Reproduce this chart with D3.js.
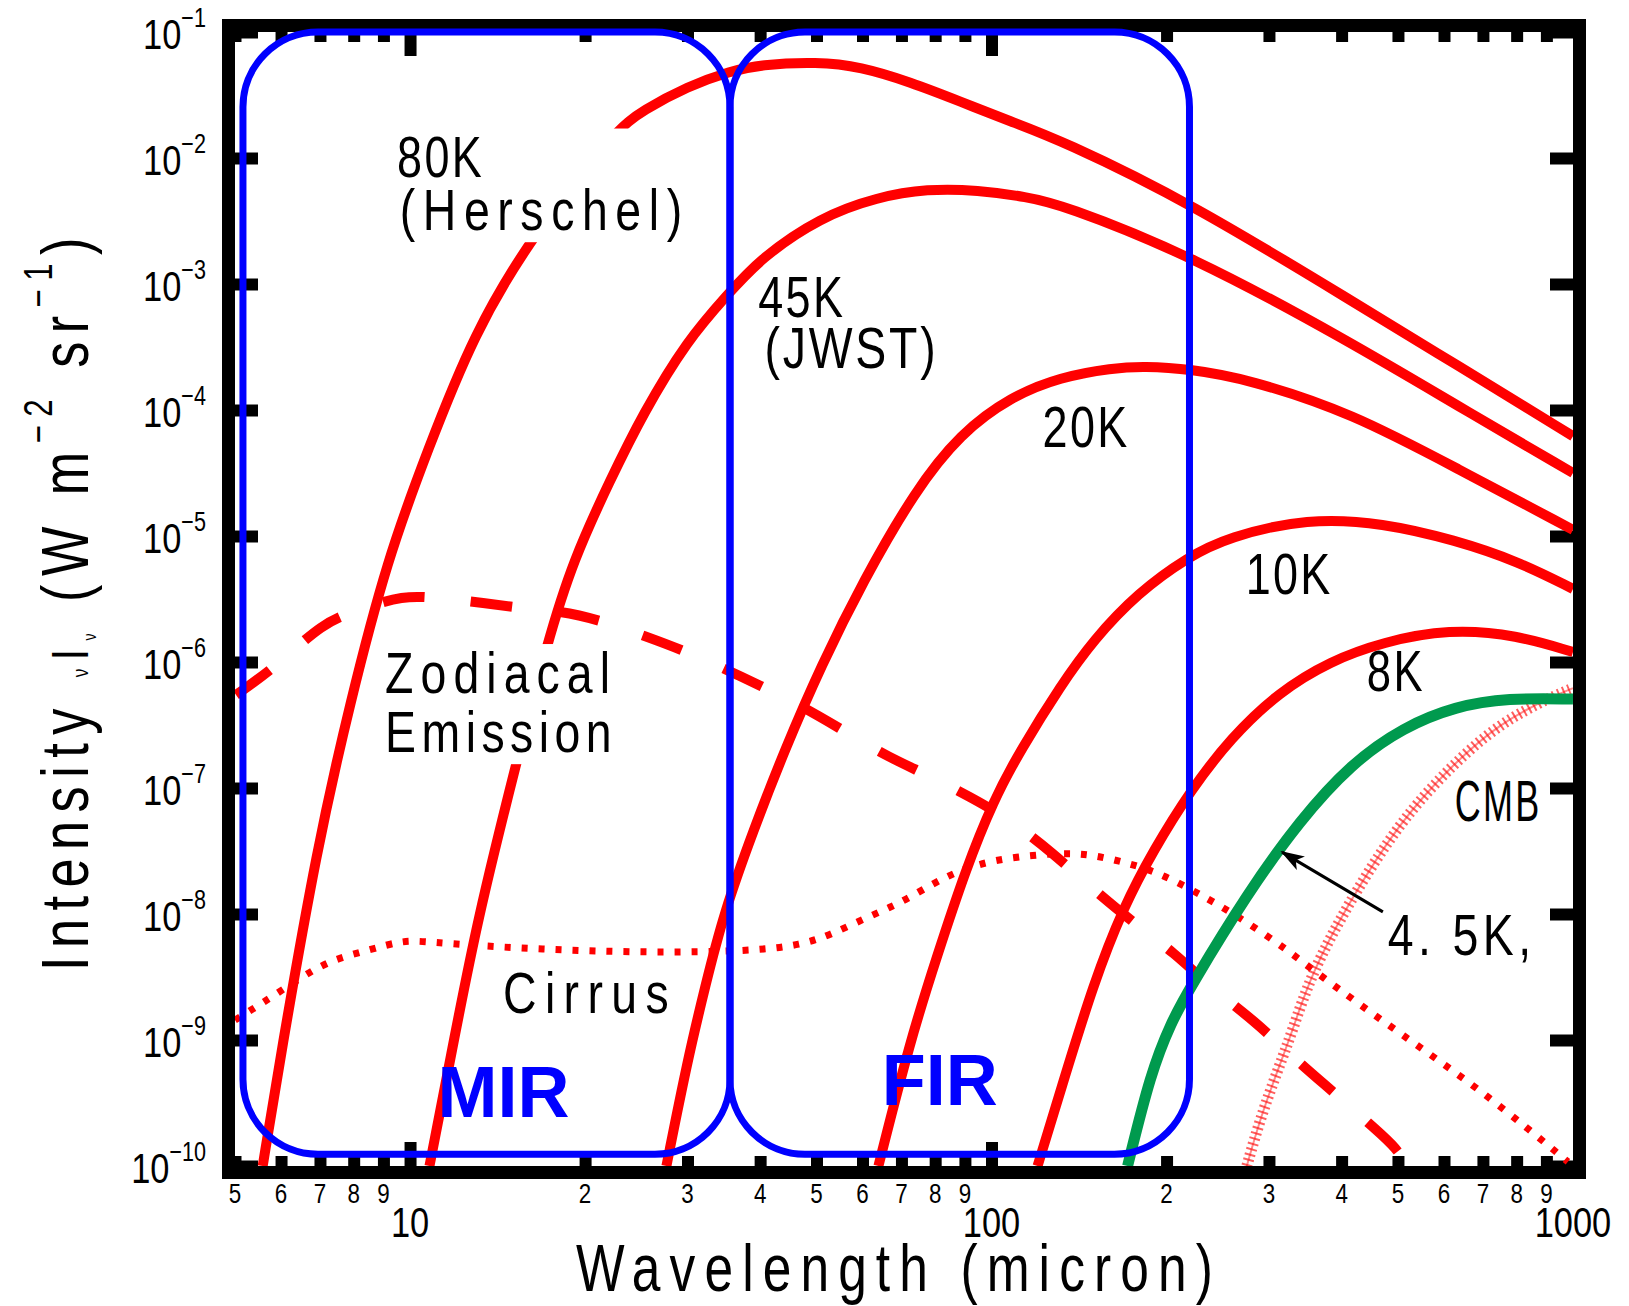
<!DOCTYPE html>
<html>
<head>
<meta charset="utf-8">
<script src="https://cdn.jsdelivr.net/npm/d3@7"></script>
<style>
html, body { margin: 0; padding: 0; background: #fff; }
svg { display: block; }
text { font-family: "Liberation Sans", Arial, sans-serif; fill: #000; }
</style>
</head>
<body>
<svg id="chart" width="1629" height="1306"></svg>
<script>
// axis ticks
var xMinorTicks = [5, 6, 7, 8, 9, 20, 30, 40, 50, 60, 70, 80, 90, 200, 300, 400, 500, 600, 700, 800, 900];
var xMajorTicks = [10, 100, 1000];
var yTicks = [1e-1, 1e-2, 1e-3, 1e-4, 1e-5, 1e-6, 1e-7, 1e-8, 1e-9, 1e-10];

// [wavelength (micron), intensity (W m-2 sr-1)]
var bb80K = [[5.58, 1e-10], [5.97, 6.9e-10], [6.92, 3.4e-8], [7.88, 4.7e-7], [9.13, 6.5e-6], [10.74, 4.9e-5],
	[12.86, 4.0e-4], [16.2, 2.4e-3], [22.5, 1.65e-2], [25.2, 2.4e-2], [30, 3.7e-2], [35.6, 4.9e-2], [40, 5.5e-2],
	[50.2, 5.8e-2], [59.5, 5.3e-2], [72.5, 4.0e-2], [88.4, 2.8e-2], [107.8, 1.95e-2], [131.5, 1.39e-2],
	[220, 4.4e-3], [417, 7.3e-4], [629, 2.3e-4], [1000, 6.2e-5]];
var bb45K = [[10.8, 1e-10], [11.72, 6.9e-10], [13.04, 8.95e-9], [15.28, 1.67e-7], [17.21, 1.42e-6], [19.08, 6.45e-6],
	[22.09, 2.78e-5], [25.18, 9.46e-5], [30, 3.6e-4], [35.13, 8.2e-4], [40.05, 1.6e-3], [50.8, 3.4e-3],
	[63.66, 4.9e-3], [77.6, 5.7e-3], [94.6, 5.57e-3], [115.3, 4.9e-3], [131.5, 4.3e-3], [220, 1.7e-3],
	[417, 3.4e-4], [629, 1.1e-4], [1000, 3.16e-5]];
var bb20K = [[27.6, 1e-10], [30, 6.9e-10], [32.2, 2.7e-9], [34.6, 1.0e-8], [38.9, 4.56e-8], [44.2, 2.07e-7],
	[51, 9.46e-7], [60, 4.3e-6], [74, 2.32e-5], [88.4, 6.5e-5], [107.8, 1.27e-4], [131.5, 1.83e-4],
	[161.5, 2.15e-4], [182.7, 2.23e-4], [220, 2.11e-4], [276, 1.76e-4], [417, 9.46e-5], [629, 3.47e-5],
	[1000, 1.12e-5]];
var bb10K = [[63.9, 1e-10], [72.5, 1.0e-9], [80.7, 4.73e-9], [90.2, 2.23e-8], [100.8, 8.0e-8], [112.2, 2.0e-7],
	[131.5, 6.5e-7], [149.8, 1.5e-6], [178.4, 3.53e-6], [217.5, 6.8e-6], [255, 9.8e-6], [350, 1.39e-5],
	[471, 1.27e-5], [626, 9.3e-6], [804, 6.3e-6], [1000, 3.8e-6]];
var bb8K = [[120, 1e-10], [131.5, 4.0e-10], [149.8, 2.83e-9], [168.7, 1.14e-8], [190, 3.22e-8], [220, 9.6e-8],
	[258, 2.5e-7], [312, 5.78e-7], [383, 1.02e-6], [471, 1.44e-6], [612, 1.83e-6], [801, 1.64e-6],
	[1000, 1.2e-6]];
var bb4p5K = [[171.4, 1e-10], [187.8, 5.47e-10], [203.3, 1.36e-9], [219.8, 2.64e-9], [275.6, 1.46e-8],
	[338.6, 5.5e-8], [416, 1.57e-7], [511, 3.04e-7], [628, 4.45e-7], [772, 5.18e-7], [1000, 5.08e-7]];
var cmb = [[274.8, 1e-10], [290.4, 2.45e-10], [310.7, 5.78e-10], [329.7, 1.2e-9], [354, 3.28e-9], [410, 1.2e-8],
	[502, 5.27e-8], [612, 1.44e-7], [748, 3.28e-7], [917, 5.27e-7], [1000, 6.2e-7]];
var cirrus = [[5, 1.44e-9], [5.58, 1.97e-9], [6.39, 2.99e-9], [7.28, 4.31e-9], [8.53, 5.18e-9], [9.73, 6.22e-9],
	[10.8, 6.0e-9], [14.12, 5.47e-9], [18.34, 5.18e-9], [23.9, 4.99e-9], [31.9, 4.99e-9], [40, 5.18e-9],
	[46.9, 5.68e-9], [52.8, 6.81e-9], [61.2, 9.46e-9], [69.7, 1.22e-8], [79.5, 1.76e-8], [88.4, 2.23e-8],
	[100.8, 2.68e-8], [118.1, 2.94e-8], [135.1, 3.05e-8], [149.8, 2.94e-8], [171.4, 2.54e-8], [195.4, 2.11e-8],
	[238, 1.29e-8], [271.5, 8.95e-9], [323, 5.18e-9], [360, 3.47e-9], [502, 1.14e-9], [703, 3.86e-10],
	[980, 1.08e-10]];
var zodiacal = [[5.02, 5.47e-7], [5.93, 9.46e-7], [7.06, 2.04e-6], [8.14, 2.59e-6], [9.73, 3.4e-6], [11.17, 3.22e-6],
	[13.46, 2.94e-6], [15.46, 2.68e-6], [18.12, 2.54e-6], [21.23, 2.15e-6], [25.58, 1.58e-6], [29.5, 1.24e-6],
	[37, 7.74e-7], [46.9, 4.56e-7], [57.2, 2.64e-7], [66.5, 1.76e-7], [77.6, 1.27e-7], [92, 8.49e-8],
	[107.8, 5.57e-8], [127.4, 3.05e-8], [148, 1.64e-8], [175.6, 8.49e-9], [205.7, 4.99e-9], [241, 2.49e-9],
	[282.5, 1.44e-9], [331, 7.2e-10], [380, 4.16e-10], [463.5, 1.86e-10], [496, 1.39e-10], [520, 1e-10]];

// wavelength bands [from, to] and their intensity extent
var bandNames = ["MIR", "FIR"];
var bandEdges = [[5.16, 35.5], [35.5, 219]];
var bandRange = [1.24e-10, 1e-1];

var svg = d3.select("#chart");
var x = d3.scaleLog().domain([5, 1000]).range([235, 1573]);
var y = d3.scaleLog().domain([1e-10, 1e-1]).range([1166, 32]);
var plotLeft = x.range()[0], plotRight = x.range()[1], plotTop = y.range()[1], plotBottom = y.range()[0];

var defs = svg.append("defs");
defs.append("clipPath").attr("id", "plotClip").append("rect")
	.attr("x", plotLeft).attr("y", plotTop)
	.attr("width", plotRight - plotLeft).attr("height", plotBottom - plotTop);
defs.append("marker").attr("id", "arrowHead").attr("viewBox", "0 0 12 8")
	.attr("refX", 11).attr("refY", 4).attr("markerWidth", 8).attr("markerHeight", 5.3)
	.attr("orient", "auto")
	.append("path").attr("d", "M0,0 L12,4 L0,8 L3,4 Z").attr("fill", "#000");

// narrow glyphs, then spread the letters so the text covers "target" pixels
function fitText(t, target, maxScale, rotate) {
	var w = t.node().getComputedTextLength();
	var n = t.text().length;
	var s = Math.min(maxScale, 0.92 * target / w);
	t.style("letter-spacing", ((target / s - w) / n) + "px");
	var x0 = +t.attr("x"), y0 = +t.attr("y");
	t.attr("x", 0).attr("y", 0)
		.attr("transform", "translate(" + x0 + "," + y0 + ")" + (rotate ? " rotate(" + rotate + ")" : "") + " scale(" + s + ",1)");
}
function squeeze(sel, s) {
	sel.each(function() {
		var t = d3.select(this);
		var x0 = +t.attr("x"), y0 = +t.attr("y");
		t.attr("x", 0).attr("y", 0).attr("transform", "translate(" + x0 + "," + y0 + ") scale(" + s + ",1)");
	});
}

// frame
svg.append("rect").attr("x", plotLeft - 6.5).attr("y", plotTop - 6.5)
	.attr("width", plotRight - plotLeft + 13).attr("height", plotBottom - plotTop + 13)
	.attr("fill", "none").attr("stroke", "#000").attr("stroke-width", 13);

function tickAxis(axis, tx, ty) {
	var g = svg.append("g").attr("transform", "translate(" + tx + "," + ty + ")").call(axis);
	g.select(".domain").remove();
	g.selectAll(".tick line").attr("stroke", "#000").attr("stroke-width", 12);
	g.selectAll(".tick text").remove();
	return g;
}
tickAxis(d3.axisBottom(x).tickValues(xMinorTicks).tickSize(-10), 0, plotBottom);
tickAxis(d3.axisBottom(x).tickValues([10, 100]).tickSize(-24), 0, plotBottom);
tickAxis(d3.axisTop(x).tickValues(xMinorTicks).tickSize(-10), 0, plotTop);
tickAxis(d3.axisTop(x).tickValues([10, 100]).tickSize(-24), 0, plotTop);
tickAxis(d3.axisLeft(y).tickValues(yTicks).tickSize(-23), plotLeft, 0);
tickAxis(d3.axisRight(y).tickValues(yTicks).tickSize(-23), plotRight, 0);

// tick labels
var xMinorLab = svg.selectAll(".xminor").data(xMinorTicks).enter().append("text")
	.attr("x", function(d) { return x(d); }).attr("y", plotBottom + 37)
	.attr("text-anchor", "middle").attr("font-size", 28).attr("fill", "#222")
	.text(function(d) { return String(d).charAt(0); });
squeeze(xMinorLab, 0.8);
var xMajorLab = svg.selectAll(".xmajor").data(xMajorTicks).enter().append("text")
	.attr("x", function(d) { return x(d); }).attr("y", plotBottom + 71)
	.attr("text-anchor", "middle").attr("font-size", 43).attr("fill", "#222")
	.text(function(d) { return String(d); });
squeeze(xMajorLab, 0.8);
var yLab = svg.selectAll(".ylab").data(yTicks).enter().append("text")
	.attr("x", 206).attr("y", function(d) { return y(d) + 17; })
	.attr("text-anchor", "end").attr("font-size", 43).attr("fill", "#222");
yLab.append("tspan").text("10");
yLab.append("tspan").attr("font-size", 27).attr("dy", -22)
	.text(function(d) { return "\u2212" + Math.round(-Math.log10(d)); });
squeeze(yLab, 0.8);

// curves
var line = d3.line().x(function(d) { return x(d[0]); }).y(function(d) { return y(d[1]); })
	.curve(d3.curveBasis);
var plot = svg.append("g").attr("clip-path", "url(#plotClip)");

plot.append("path").attr("d", line(zodiacal)).attr("fill", "none").attr("stroke", "#ff0000")
	.attr("stroke-width", 10).attr("stroke-dasharray", "42 46");
plot.append("path").attr("d", line(cirrus)).attr("fill", "none").attr("stroke", "#ff0000")
	.attr("stroke-width", 7).attr("stroke-dasharray", "6 11");
plot.append("path").attr("d", line(cmb)).attr("fill", "none").attr("stroke", "#ff8c8c")
	.attr("stroke-width", 2);
plot.append("path").attr("d", line(cmb)).attr("fill", "none").attr("stroke", "#ff1a1a")
	.attr("stroke-width", 11).attr("stroke-opacity", 0.7).attr("stroke-dasharray", "2 3.5");

var solid = [bb80K, bb45K, bb20K, bb10K, bb8K];
plot.selectAll(".bb").data(solid).enter().append("path")
	.attr("d", line).attr("fill", "none").attr("stroke", "#ff0000").attr("stroke-width", 10);
plot.append("path").attr("d", line(bb4p5K)).attr("fill", "none").attr("stroke", "#009a4e")
	.attr("stroke-width", 11);

// labels: text, wavelength of left edge, intensity at baseline, width in characters
var labelFont = 58;
function labelGroup(lines, mask) {
	var g = svg.append("g");
	lines.forEach(function(l) {
		var t = g.append("text").attr("x", x(l[1])).attr("y", y(l[2])).attr("font-size", labelFont).text(l[0]);
		fitText(t, (l[3] || l[0].length) * labelFont * 0.5, 0.8);
	});
	if (mask) {
		var b = g.node().getBBox();
		g.insert("rect", ":first-child").attr("x", b.x - 8).attr("y", b.y + 4)
			.attr("width", b.width + 16).attr("height", b.height - 4).attr("fill", "#fff");
	}
}
labelGroup([["80K", 9.5, 7.06e-3], ["(Herschel)", 9.6, 2.68e-3]], true);
labelGroup([["45K", 39.7, 5.47e-4], ["(JWST)", 40.7, 2.15e-4]], false);
labelGroup([["20K", 122.4, 5.08e-5]], false);
labelGroup([["10K", 273.6, 3.47e-6]], false);
labelGroup([["8K", 442, 5.89e-7]], false);
labelGroup([["CMB", 626, 5.47e-8]], false);
labelGroup([["4. 5K,", 480, 4.73e-9, 5.1]], false);
labelGroup([["Zodiacal", 9.06, 5.67e-7], ["Emission", 9.06, 1.93e-7]], true);
labelGroup([["Cirrus", 14.45, 1.64e-9]], false);

// arrow to the 4.5K curve
svg.append("line").attr("x1", x(471)).attr("y1", y(1.04e-8)).attr("x2", x(316)).attr("y2", y(3.1e-8))
	.attr("stroke", "#000").attr("stroke-width", 3).attr("marker-end", "url(#arrowHead)");

// MIR / FIR boxes
svg.selectAll(".band").data(bandEdges).enter().append("rect")
	.attr("x", function(d) { return x(d[0]); }).attr("y", y(bandRange[1]))
	.attr("width", function(d) { return x(d[1]) - x(d[0]); })
	.attr("height", y(bandRange[0]) - y(bandRange[1]))
	.attr("rx", 75).attr("ry", 75)
	.attr("fill", "none").attr("stroke", "#0000ff").attr("stroke-width", 7);
var bandLabelPos = [[14.48, 2.45e-10], [81.5, 3.05e-10]];
svg.selectAll(".bandlab").data(bandNames).enter().append("text")
	.attr("x", function(d, i) { return x(bandLabelPos[i][0]); })
	.attr("y", function(d, i) { return y(bandLabelPos[i][1]); })
	.attr("text-anchor", "middle").attr("font-size", 72).attr("font-weight", "bold")
	.style("fill", "#0000ff")
	.text(function(d) { return d; });

// axis titles
var xTitle = svg.append("text").attr("x", 899).attr("y", 1291).attr("text-anchor", "middle")
	.attr("font-size", 66).text("Wavelength (micron)");
fitText(xTitle, 646, 0.78);

var yTitle = svg.append("text").attr("x", 88).attr("y", 600)
	.attr("text-anchor", "middle").attr("font-size", 67);
yTitle.append("tspan").text("Intensity ");
yTitle.append("tspan").attr("font-size", 22).text("\u03bd");
yTitle.append("tspan").attr("font-size", 52).text("I");
yTitle.append("tspan").attr("font-size", 18).attr("dy", 8).text("\u03bd");
yTitle.append("tspan").attr("dy", -8).text(" (W m");
yTitle.append("tspan").attr("font-size", 40).attr("dy", -36).text("\u22122");
yTitle.append("tspan").attr("dy", 36).text(" sr");
yTitle.append("tspan").attr("font-size", 40).attr("dy", -36).text("\u22121");
yTitle.append("tspan").attr("dy", 36).text(")");
fitText(yTitle, 742, 0.78, -90);
</script>
</body>
</html>
